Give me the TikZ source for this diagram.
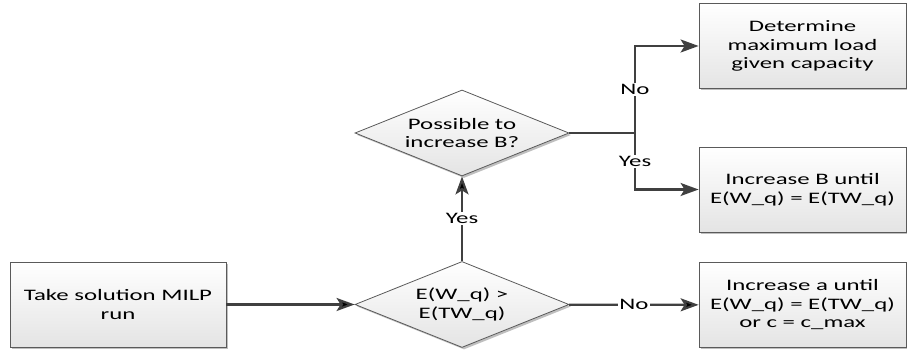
\documentclass[tikz,border=0pt]{standalone}
\usepackage{fontspec}
\setmainfont{Carlito}[FakeStretch=1.55]
\usetikzlibrary{shapes.geometric}
\usetikzlibrary{arrows.meta}
\usetikzlibrary{shadows}

\definecolor{linegray}{HTML}{404040}
\definecolor{boxgray}{HTML}{5A5A5A}
\definecolor{fillgray}{HTML}{E4E4E4}

\tikzset{
  shaded/.style={draw=boxgray, line width=0.8pt, top color=white, bottom color=fillgray,
    drop shadow={shadow xshift=2pt, shadow yshift=-2pt, fill=black!25, opacity=1}},
  procbox/.style={rectangle, shaded, align=center, inner sep=0pt,
    minimum height=85pt, font=\fontsize{16pt}{18.5pt}\selectfont},
  decision/.style={diamond, shaded, align=center, inner sep=0pt, aspect=2.5,
    minimum width=214pt, minimum height=86pt, font=\fontsize{16pt}{18.5pt}\selectfont},
  flow/.style={draw=linegray, line width=2.2pt, -{Stealth[length=18pt,width=13pt,inset=4pt]}},
  answer/.style={fill=white, inner sep=1.5pt, text=black, font=\fontsize{16pt}{18.5pt}\selectfont}
}

\begin{document}
\begin{tikzpicture}[x=1pt,y=1pt]
  \useasboundingbox (0,0) rectangle (907,352);

  % process boxes and decisions
  \node[procbox, minimum width=216pt] (milp) at (118,47.5) {Take solution MILP\\run};
  \node[decision] (wait) at (462,47.5) {E(W\_q) >\\E(TW\_q)};
  \node[decision] (incb) at (462,219) {Possible to\\increase B?};
  \node[procbox, minimum width=207pt] (maxload) at (802.5,306) {Determine\\maximum load\\given capacity};
  \node[procbox, minimum width=207pt] (incB) at (802.5,162.5) {Increase B until\\E(W\_q) = E(TW\_q)};
  \node[procbox, minimum width=207pt] (inca) at (802.5,47) {Increase a until\\E(W\_q) = E(TW\_q)\\or c = c\_max};
  \coordinate (split) at (635,219);

  % connectors
  \path[flow]
    (milp) edge (wait)
    (wait) edge node[answer] {Yes} (incb)
    (wait) edge node[answer] {No} (inca);
  \draw[flow] (incb.east) -- (split) |- node[answer, pos=0.25] {No} (maxload.west);
  \draw[flow] (split) |- node[answer, pos=0.25] {Yes} (incB.west);
\end{tikzpicture}
\end{document}
